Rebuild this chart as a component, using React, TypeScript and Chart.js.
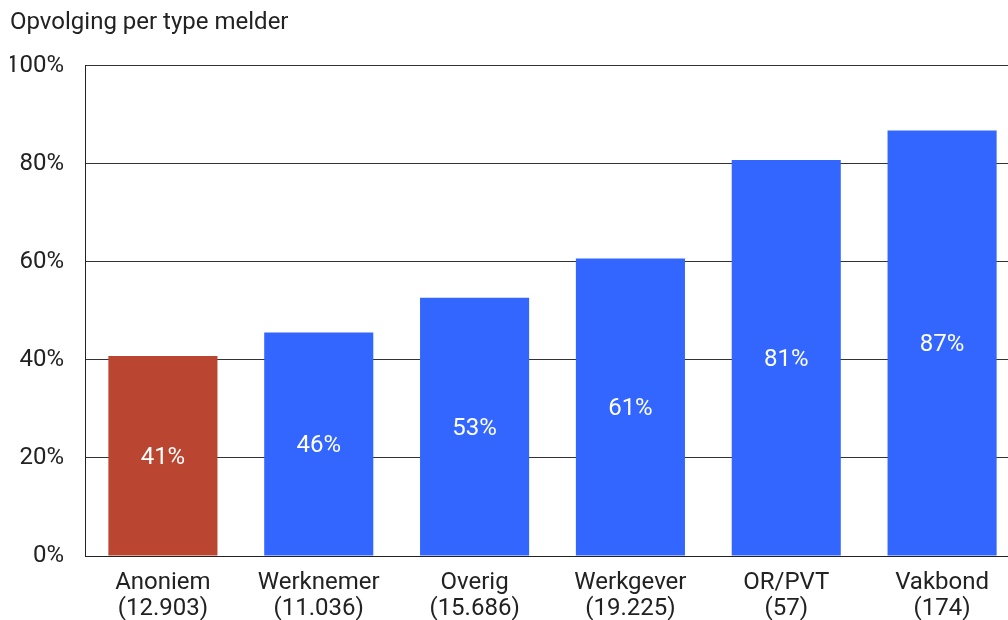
import React, { useEffect, useRef } from "react";
import { Chart, registerables } from "chart.js";

Chart.register(...registerables);

const categories: string[][] = [
  ["Anoniem", "(12.903)"],
  ["Werknemer", "(11.036)"],
  ["Overig", "(15.686)"],
  ["Werkgever", "(19.225)"],
  ["OR/PVT", "(57)"],
  ["Vakbond", "(174)"],
];
const values: number[] = [40.8, 45.6, 52.7, 60.7, 80.8, 86.8];
const barColors: string[] = ["#BA4530", "#3366FF", "#3366FF", "#3366FF", "#3366FF", "#3366FF"];
const titleText = "Opvolging per type melder";

const FONT = "Roboto";
const SIZE = 24;

const labelPlugin = {
  id: "barLabels",
  afterDatasetsDraw(chart: any) {
    const ctx = chart.ctx;
    const meta = chart.getDatasetMeta(0);
    ctx.save();
    ctx.fillStyle = "#ffffff";
    ctx.font = `${SIZE}px ${FONT}`;
    ctx.textAlign = "center";
    ctx.textBaseline = "middle";
    meta.data.forEach((bar: any, i: number) => {
      const v = values[i];
      ctx.fillText(`${Math.round(v)}%`, bar.x, (bar.y + bar.base) / 2 + 2);
    });
    ctx.restore();
  },
};

export default function App() {
  const ref = useRef<HTMLCanvasElement | null>(null);
  useEffect(() => {
    if (!ref.current) return;
    const chart = new Chart(ref.current, {
      type: "bar",
      data: {
        labels: categories,
        datasets: [
          {
            data: values,
            backgroundColor: barColors,
            borderWidth: 0,
            barPercentage: 0.7,
            categoryPercentage: 1,
          },
        ],
      },
      options: {
        responsive: false,
        animation: false,
        layout: { padding: { left: 10, right: 0, top: 0, bottom: 0 } },
        plugins: {
          legend: { display: false },
          tooltip: { enabled: false },
          title: {
            display: true,
            text: titleText,
            align: "start",
            color: "#222",
            font: { family: FONT, size: SIZE, weight: "normal" },
            padding: { top: 9, bottom: 28 },
          },
        },
        scales: {
          x: {
            grid: { display: false },
            border: { display: true, color: "#222", width: 1 },
            ticks: {
              color: "#222",
              font: { family: FONT, size: SIZE, lineHeight: 1.08 },
              padding: 6,
              maxRotation: 0,
              autoSkip: false,
            },
            afterFit(scale: any) {
              scale.height = 64;
            },
          },
          y: {
            min: 0,
            max: 100,
            grid: { color: "#333", lineWidth: 1, drawTicks: false },
            border: { display: true, color: "#222", width: 1 },
            ticks: {
              stepSize: 20,
              color: "#222",
              font: { family: FONT, size: SIZE },
              padding: 21,
              callback: (v: any) => `${v}%`,
            },
            afterFit(scale: any) {
              scale.width = 75;
            },
          },
        },
      },
      plugins: [labelPlugin],
    });
    return () => chart.destroy();
  }, []);
  return (
    <div
      style={{
        position: "fixed",
        left: 0,
        top: 0,
        width: 1008,
        height: 620,
        overflow: "hidden",
        background: "#fff",
      }}
    >
      <canvas ref={ref} width={1020} height={620} style={{ display: "block" }} />
    </div>
  );
}
